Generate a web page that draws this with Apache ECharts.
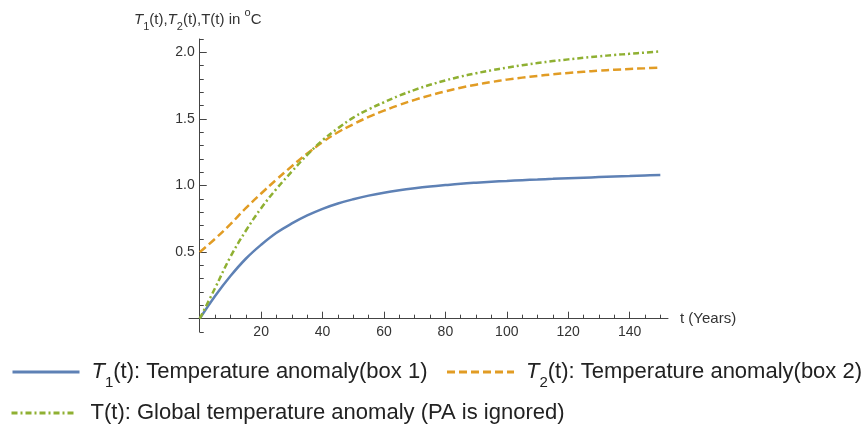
<!DOCTYPE html>
<html>
<head>
<meta charset="utf-8">
<script src="https://cdn.jsdelivr.net/npm/echarts@6/dist/echarts.min.js"></script>
<style>
  html, body { margin: 0; padding: 0; background: #fff; }
  #chart { width: 864px; height: 428px; }
</style>
</head>
<body>
<div id="chart"></div>
<script>
// time in years
const years = [0, 5, 10, 15, 20, 25, 30, 35, 40, 45, 50, 55, 60, 65, 70, 75, 80, 85, 90, 95, 100, 105, 110, 115, 120, 125, 130, 135, 140, 145, 150]
// T1(t), box 1
const t1Values = [0, 0.17, 0.32, 0.45, 0.555, 0.645, 0.715, 0.775, 0.825, 0.865, 0.897, 0.924, 0.946, 0.964, 0.979, 0.992, 1.003, 1.013, 1.021, 1.028, 1.034, 1.04, 1.045, 1.05, 1.055, 1.059, 1.063, 1.067, 1.071, 1.075, 1.078]
// T2(t), box 2
const t2Values = [0.5, 0.6, 0.71, 0.83, 0.94, 1.045, 1.145, 1.24, 1.325, 1.4, 1.46, 1.515, 1.562, 1.605, 1.643, 1.677, 1.707, 1.734, 1.757, 1.777, 1.795, 1.81, 1.823, 1.835, 1.845, 1.854, 1.862, 1.869, 1.875, 1.88, 1.885]
// T(t), global
const tValues = [0, 0.23, 0.465, 0.66, 0.83, 0.975, 1.105, 1.23, 1.34, 1.43, 1.51, 1.572, 1.625, 1.675, 1.718, 1.756, 1.789, 1.818, 1.843, 1.865, 1.885, 1.903, 1.919, 1.934, 1.947, 1.959, 1.97, 1.98, 1.989, 1.998, 2.007]

const xMajorTicks = [20, 40, 60, 80, 100, 120, 140]
const xMinorTicks = [5, 10, 15, 20, 25, 30, 35, 40, 45, 50, 55, 60, 65, 70, 75, 80, 85, 90, 95, 100, 105, 110, 115, 120, 125, 130, 135, 140, 145, 150]
const yMajorTicks = [0.5, 1.0, 1.5, 2.0]
const yMinorTicks = [-0.1, 0.1, 0.2, 0.3, 0.4, 0.5, 0.6, 0.7, 0.8, 0.9, 1.0, 1.1, 1.2, 1.3, 1.4, 1.5, 1.6, 1.7, 1.8, 1.9, 2.0, 2.1]

const toPairs = (vals) => years.map((x, i) => [x, vals[i]])

const axisColor = '#444'
const font = 'Liberation Sans, Arial, sans-serif'

// plot area: x from -3.5 to 152.5, y from -0.1 to 2.1
const gridW = 479
const gridH = 293
const xOverhang = 3.5 * gridW / 156
const yOverhang = 0.1 * gridH / 2.2

const chart = echarts.init(document.getElementById('chart'))

const legendRich = (pad) => ({
  it: { fontStyle: 'italic', fontSize: 22, fontFamily: font, color: '#222', padding: [0, 0, 0, pad] },
  sub: { fontSize: 15, fontFamily: font, color: '#222', verticalAlign: 'bottom', padding: [0, 0, -7, 0] },
  n: { fontSize: 22, fontFamily: font, color: '#222' },
  np: { fontSize: 22, fontFamily: font, color: '#222', padding: [0, 0, 0, pad] }
})
const legendFormatter = (name) => {
  if (name === 'T1') return '{it|T}{sub|1}{n|(t): Temperature anomaly(box 1)}'
  if (name === 'T2') return '{it|T}{sub|2}{n|(t): Temperature anomaly(box 2)}'
  return '{np|T(t): Global temperature anomaly (PA is ignored)}'
}
// hide the legend symbol, keep only the line sample
const legendItemStyle = { opacity: 0, color: 'rgba(0,0,0,0)', borderWidth: 0 }

chart.setOption({
  animation: false,
  backgroundColor: '#fff',
  grid: { left: 189, top: 39, width: gridW, height: gridH },
  graphic: [{
    type: 'text',
    left: 134,
    top: 7,
    style: {
      text: '{it|T}{sub|1}{n|(t),}{it|T}{sub|2}{n|(t),T(t) in }{sup|o}{n|C}',
      rich: {
        it: { fontStyle: 'italic', fontSize: 15, fontFamily: font, fill: '#333' },
        sub: { fontSize: 11, fontFamily: font, fill: '#333', verticalAlign: 'bottom', padding: [0, 0, -5, 0] },
        sup: { fontSize: 11, fontFamily: font, fill: '#333', verticalAlign: 'top', padding: [-5, 0, 0, 0] },
        n: { fontSize: 15, fontFamily: font, fill: '#333' }
      }
    }
  }],
  legend: [{
    left: 11,
    top: 361,
    width: 853,
    padding: 0,
    data: ['T1', 'T2'],
    itemWidth: 67,
    itemHeight: 14,
    itemGap: 18,
    itemStyle: legendItemStyle,
    lineStyle: { width: 3 },
    formatter: legendFormatter,
    textStyle: { rich: legendRich(7) }
  }, {
    left: 10,
    top: 402,
    padding: 0,
    data: ['T'],
    itemWidth: 63,
    itemHeight: 14,
    itemStyle: legendItemStyle,
    lineStyle: { width: 3 },
    formatter: legendFormatter,
    textStyle: { rich: legendRich(11) }
  }],
  xAxis: [{
    type: 'value',
    min: -3.5,
    max: 152.5,
    axisLine: { show: true, onZero: true, onZeroAxisIndex: 0, lineStyle: { color: axisColor, width: 1 } },
    axisTick: { show: true, inside: true, length: 4, customValues: xMinorTicks, lineStyle: { color: axisColor } },
    axisLabel: { show: false },
    splitLine: { show: false },
    name: 't (Years)',
    nameLocation: 'end',
    nameGap: 12,
    nameTextStyle: { fontSize: 15, fontFamily: font, color: '#333' }
  }, {
    type: 'value',
    position: 'bottom',
    offset: -yOverhang,
    min: -3.5,
    max: 152.5,
    axisLine: { show: false, onZero: false },
    axisTick: { show: true, inside: true, length: 7, customValues: xMajorTicks, lineStyle: { color: axisColor } },
    axisLabel: { show: true, customValues: xMajorTicks, margin: 6, fontSize: 14, fontFamily: font, color: '#333' },
    splitLine: { show: false }
  }],
  yAxis: [{
    type: 'value',
    min: -0.1,
    max: 2.1,
    axisLine: { show: true, onZero: true, onZeroAxisIndex: 0, lineStyle: { color: axisColor, width: 1 } },
    axisTick: { show: true, inside: true, length: 4, customValues: yMinorTicks, lineStyle: { color: axisColor } },
    axisLabel: { show: false },
    splitLine: { show: false }
  }, {
    type: 'value',
    position: 'left',
    offset: -xOverhang,
    min: -0.1,
    max: 2.1,
    axisLine: { show: false, onZero: false },
    axisTick: { show: true, inside: true, length: 7, customValues: yMajorTicks, lineStyle: { color: axisColor } },
    axisLabel: {
      show: true,
      customValues: yMajorTicks,
      margin: 5,
      fontSize: 14,
      fontFamily: font,
      color: '#333',
      formatter: (v) => v.toFixed(1)
    },
    splitLine: { show: false }
  }],
  series: [{
    name: 'T1',
    type: 'line',
    data: toPairs(t1Values),
    smooth: 0.4,
    symbol: 'none',
    lineStyle: { color: '#5E81B5', width: 2.5 },
    itemStyle: { color: '#5E81B5' }
  }, {
    name: 'T2',
    type: 'line',
    data: toPairs(t2Values),
    smooth: 0.4,
    symbol: 'none',
    lineStyle: { color: '#E19C24', width: 2.5, type: [8, 4] },
    itemStyle: { color: '#E19C24' }
  }, {
    name: 'T',
    type: 'line',
    data: toPairs(tValues),
    smooth: 0.4,
    symbol: 'none',
    lineStyle: { color: '#8FB032', width: 2.5, type: [6, 3, 2, 3] },
    itemStyle: { color: '#8FB032' }
  }]
})
</script>
</body>
</html>
